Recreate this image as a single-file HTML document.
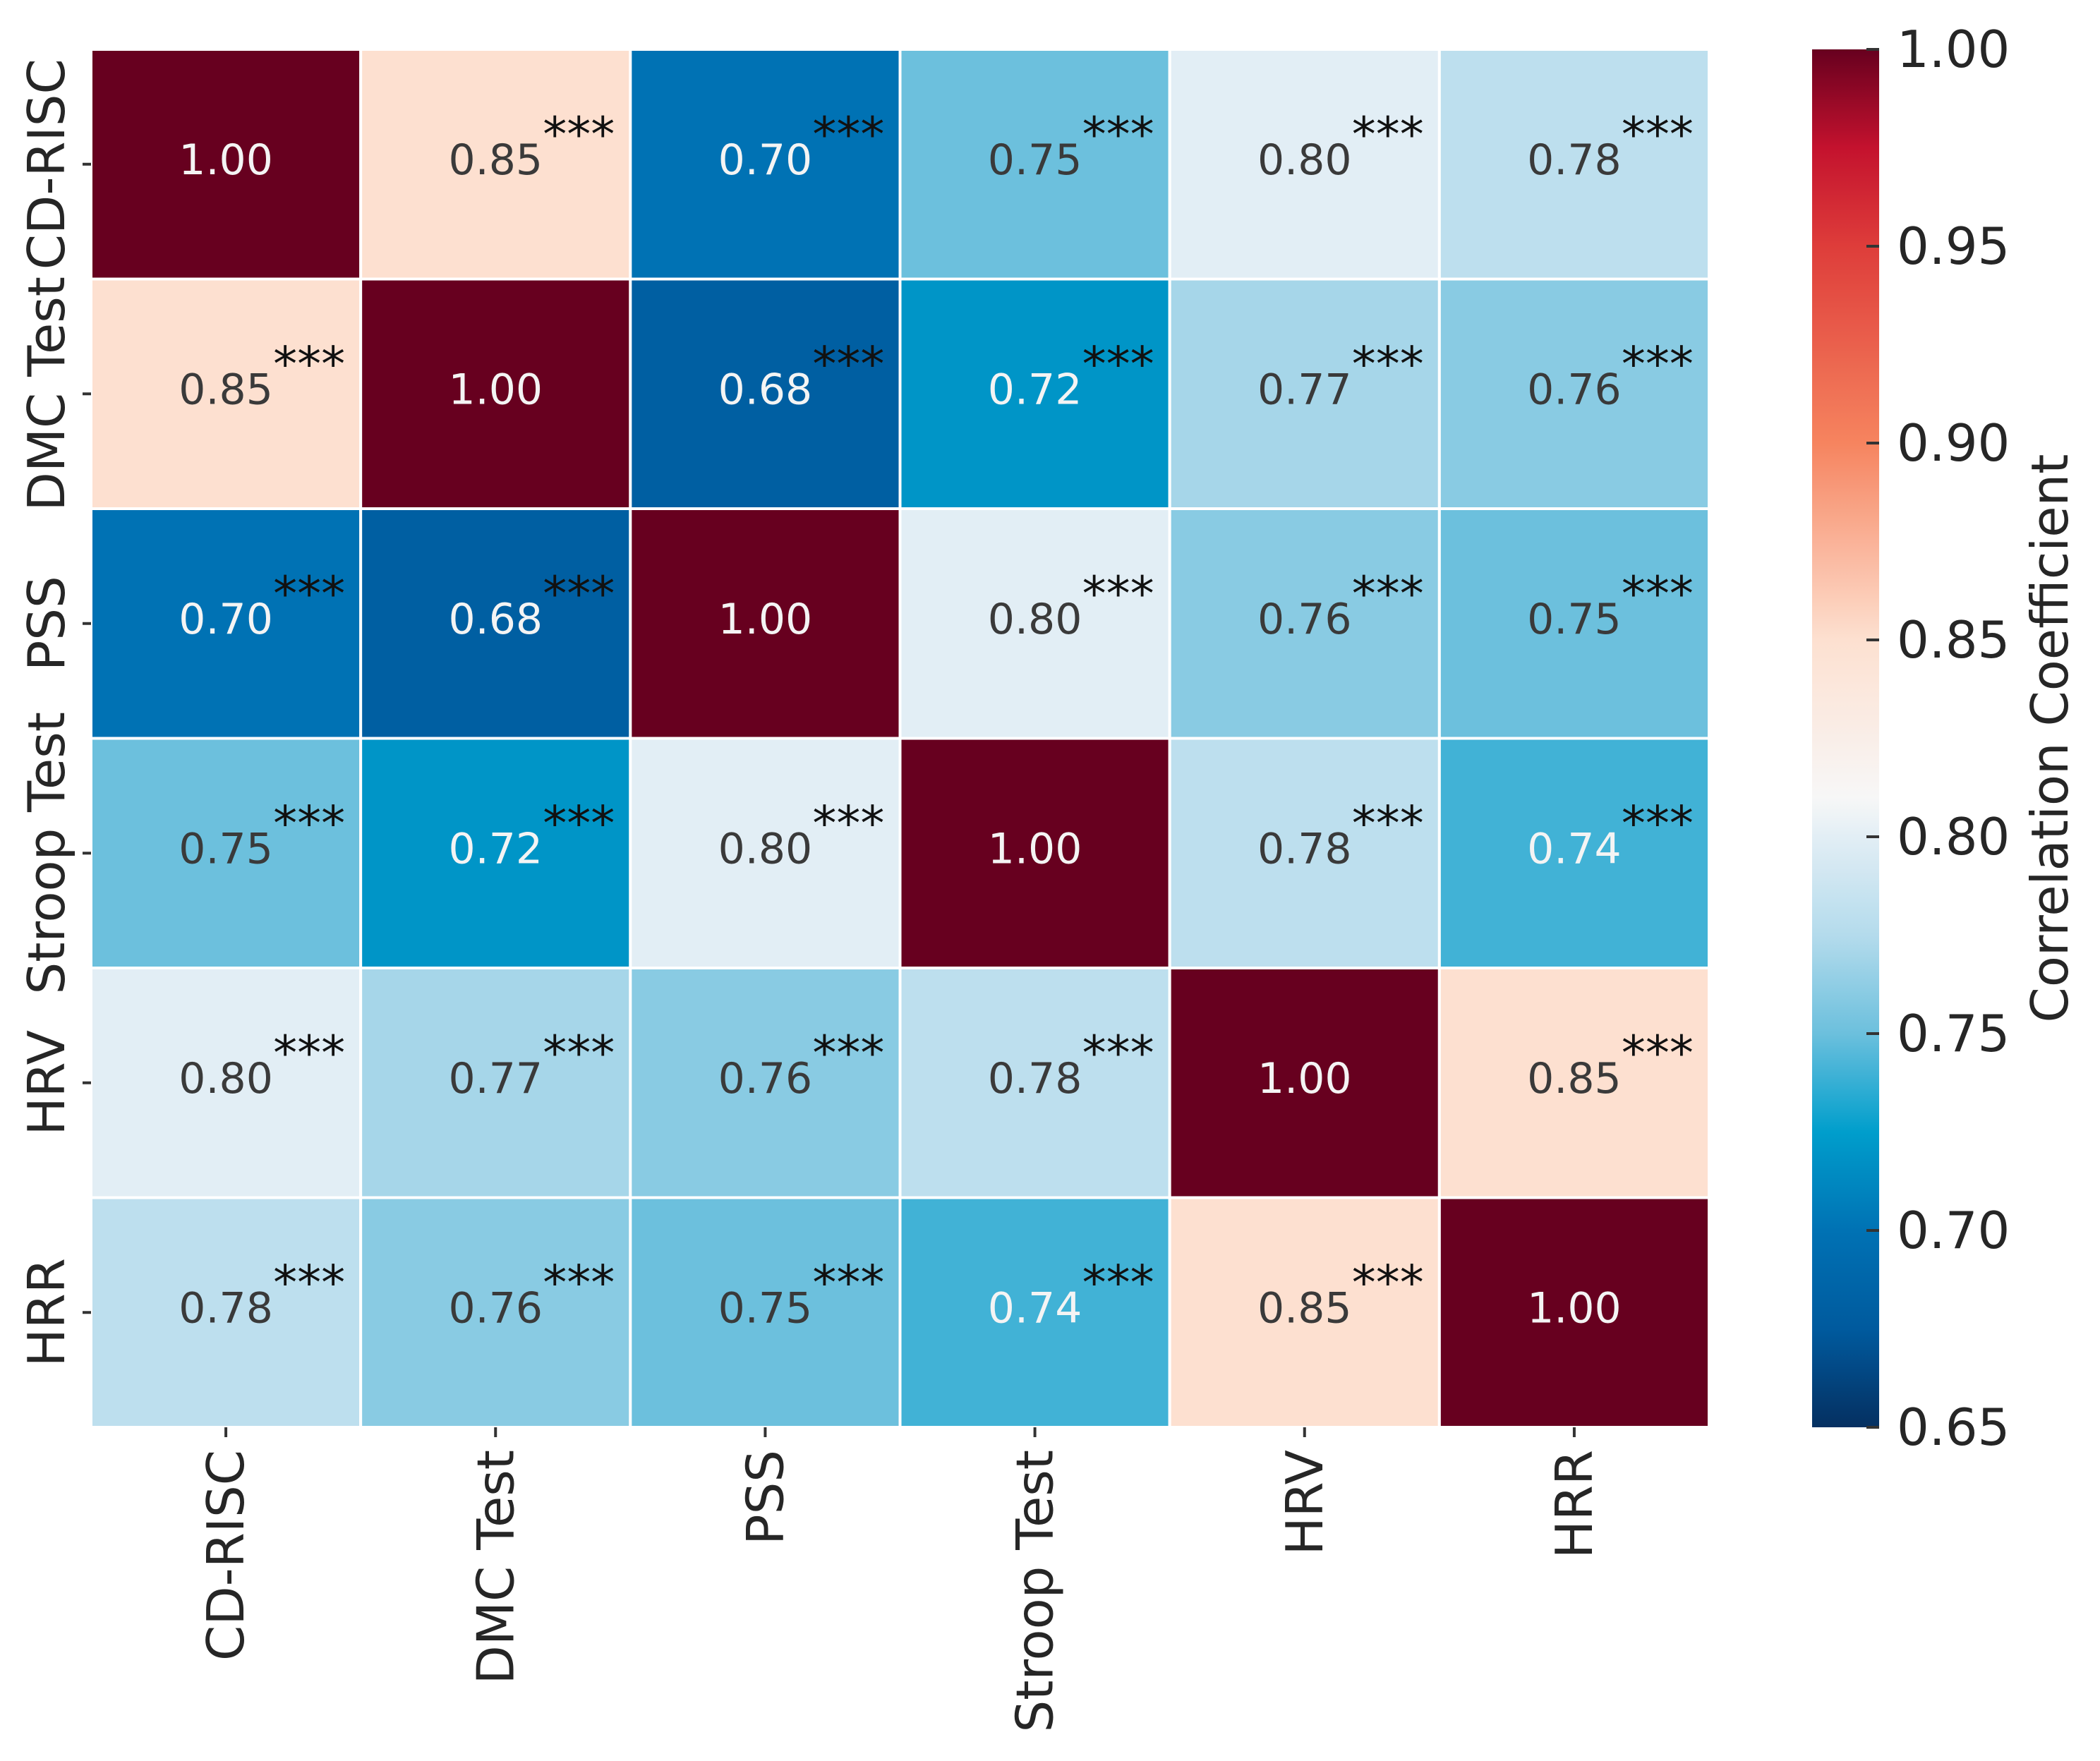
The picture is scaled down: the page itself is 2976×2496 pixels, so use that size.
<!DOCTYPE html>
<html><head><meta charset="utf-8"><style>
html,body{margin:0;padding:0;background:#fff;}
svg{display:block;font-family:"DejaVu Sans","Liberation Sans",sans-serif;}
</style></head><body>
<svg id="chart" width="2976" height="2496" viewBox="0 0 2976 2496" xmlns="http://www.w3.org/2000/svg">
<defs>
<linearGradient id="cbgrad" x1="0" y1="1" x2="0" y2="0"></linearGradient>
</defs>
<g id="cells"></g>
<g id="axes"></g>
<g id="cbar"></g>
</svg>
<script>
const labels = ["CD-RISC","DMC Test","PSS","Stroop Test","HRV","HRR"];
const row0 = [1.00,0.85,0.70,0.75,0.80,0.78];
const row1 = [0.85,1.00,0.68,0.72,0.77,0.76];
const row2 = [0.70,0.68,1.00,0.80,0.76,0.75];
const row3 = [0.75,0.72,0.80,1.00,0.78,0.74];
const row4 = [0.80,0.77,0.76,0.78,1.00,0.85];
const row5 = [0.78,0.76,0.75,0.74,0.85,1.00];
const matrix = [row0,row1,row2,row3,row4,row5];
const cbTicks = [0.65,0.70,0.75,0.80,0.85,0.90,0.95,1.00];
const vmin = 0.65, vmax = 1.00;

const NS="http://www.w3.org/2000/svg";
const L=129, T=70, W=2293, H=1953;
const cw=W/labels.length, ch=H/labels.length;
function xPos(i){return L+i*cw;}
function yPos(i){return T+i*ch;}
const cbX=2568, cbW=95, cbT=70, cbH=1953;
function cbY(v){return cbT+(vmax-v)/(vmax-vmin)*cbH;}

const stops=[[0.65,[5,48,97]],[0.675,[0,90,158]],[0.70,[0,114,180]],[0.725,[0,158,204]],[0.75,[108,192,221]],[0.775,[180,219,236]],[0.80,[226,238,245]],[0.81,[247,247,247]],[0.85,[253,224,208]],[0.90,[246,132,95]],[0.95,[222,61,58]],[0.975,[196,18,46]],[1.00,[103,0,31]]];
function color(v){
  for(let i=0;i<stops.length-1;i++){
    const a=stops[i],b=stops[i+1];
    if(v<=b[0]){const t=Math.max(0,(v-a[0])/(b[0]-a[0]));
      const c=a[1].map((x,k)=>Math.round(x+(b[1][k]-x)*t));
      return `rgb(${c[0]},${c[1]},${c[2]})`;}
  }
  return "rgb(103,0,31)";
}
function mk(tag,attrs,parent){const e=document.createElementNS(NS,tag);for(const k in attrs)e.setAttribute(k,attrs[k]);parent.appendChild(e);return e;}

const cells=document.getElementById('cells');
matrix.forEach((row,r)=>{row.forEach((v,c)=>{
  const rect=mk('rect',{x:xPos(c),y:yPos(r),width:cw,height:ch,fill:color(v),stroke:'#fff','stroke-width':4},cells);
  
  
  const cx=xPos(c)+cw/2, cy=yPos(r)+ch/2;
  const dark = v<=0.745 || v>=0.95;
  const t=mk('text',{x:cx,y:cy-6,'font-size':60,'text-anchor':'middle','dominant-baseline':'central',fill:dark?'#f4f4f4':'#3a3a3a'},cells);
  t.textContent=v.toFixed(2);
  
  
  if(r!==c){
    const s=mk('text',{x:cx+118,y:cy-19,'font-size':68,'text-anchor':'middle',fill:'#111'},cells);
    s.textContent='***';
    
    
  }
});});

const axes=document.getElementById('axes');
labels.forEach((lab,i)=>{
  const yc=yPos(i)+ch/2;
  mk('line',{x1:117,y1:yc,x2:129,y2:yc,stroke:'#333','stroke-width':4},axes);
  const yl=mk('text',{x:0,y:0,'font-size':72,'text-anchor':'middle','dominant-baseline':'central',fill:'#262626',transform:`translate(66,${yc}) rotate(-90)`},axes);
  yl.textContent=lab;
  
  
  const xc=xPos(i)+cw/2;
  mk('line',{x1:xc,y1:T+H,x2:xc,y2:T+H+14,stroke:'#333','stroke-width':4},axes);
  const xl=mk('text',{x:0,y:0,'font-size':72,'text-anchor':'end','dominant-baseline':'central',fill:'#262626',transform:`translate(${xc},${T+H+32}) rotate(-90)`},axes);
  xl.textContent=lab;
  
  
});

const grad=document.getElementById('cbgrad');
for(let k=0;k<=70;k++){const v=vmin+(vmax-vmin)*k/70;mk('stop',{offset:(k/70),'stop-color':color(v)},grad);}
const cb=document.getElementById('cbar');
const bar=mk('rect',{x:cbX,y:cbT,width:cbW,height:cbH,fill:'url(#cbgrad)'},cb);


cbTicks.forEach(v=>{
  const y=cbY(v);
  mk('line',{x1:cbX+cbW-18,y1:y,x2:cbX+cbW,y2:y,stroke:'#333','stroke-width':4},cb);
  const t=mk('text',{x:2688,y:y,'font-size':72,'dominant-baseline':'central',fill:'#262626'},cb);
  t.textContent=v.toFixed(2);
  
  
});
const cl=mk('text',{x:0,y:0,'font-size':72,'text-anchor':'middle','dominant-baseline':'central',fill:'#262626',transform:`translate(2905,${cbT+cbH/2}) rotate(-90)`},cb);
cl.textContent='Correlation Coefficient';


</script>
</body></html>
